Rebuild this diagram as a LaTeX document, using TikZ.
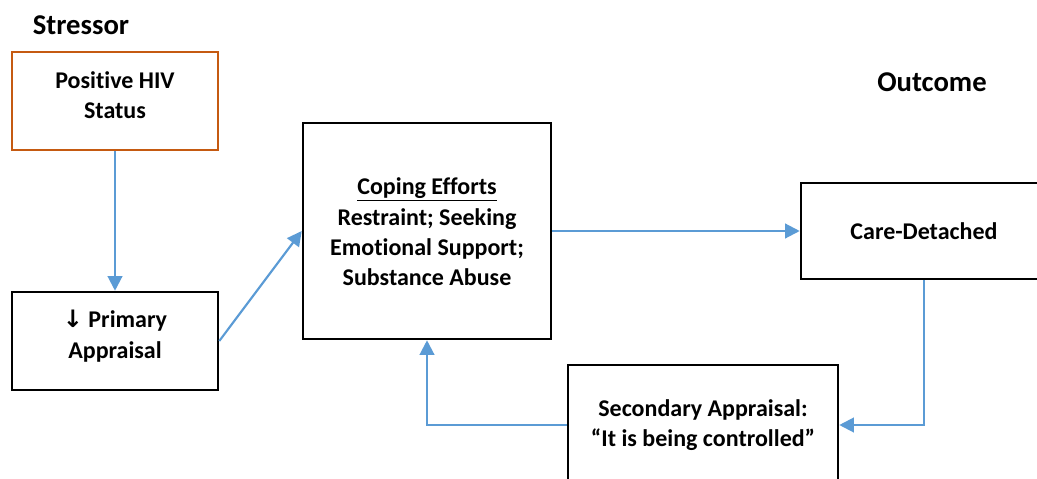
\documentclass[tikz,border=0pt]{standalone}
\usepackage{fontspec}
\setmainfont[Ligatures={NoCommon}]{Carlito}
\newfontfamily\symfont{DejaVu Sans}
\usetikzlibrary{arrows.meta}
\definecolor{arrowblue}{HTML}{5B9BD5}
\definecolor{boxbrown}{HTML}{C55A11}
\begin{document}
\begin{tikzpicture}[x=0.75pt,y=-0.75pt,
  box/.style={draw=black,line width=1.9pt,rectangle,inner sep=0pt},
  txt/.style={font=\fontsize{18}{22.8}\selectfont\bfseries,align=center,inner sep=0pt},
  head/.style={font=\fontsize{21.5}{25}\selectfont\bfseries,inner sep=0pt},
  arr/.style={draw=arrowblue,line width=1.6pt,-{Triangle[length=11pt,width=11pt]}}]
\useasboundingbox (0,0) rectangle (1037,478);
\clip (0,0) rectangle (1037,478);
% headings
\node[head] (stressor) at (81,25) {Stressor};
\node[head] (outcome) at (932,82) {Outcome};
% boxes
\node[box,draw=boxbrown,minimum width=154.5pt,minimum height=73.5pt] (hiv) at (115,101) {};
\node[txt] (hivt) at (115,95) {Positive HIV\\Status};
\node[box,minimum width=154.5pt,minimum height=73.5pt] (prim) at (115,341) {};
\node[txt] (primt) at (115,336) {{\symfont ↓} Primary\\Appraisal};
\node[box,minimum width=186pt,minimum height=162pt] (cope) at (427,231) {};
\node[txt] (copet) at (427,232) {\underline{Coping Efforts}\\Restraint; Seeking\\Emotional Support;\\Substance Abuse};
\node[box,minimum width=184.5pt,minimum height=72pt] (care) at (924,231) {};
\node[txt] (caret) at (924,231) {Care-Detached};
\node[box,minimum width=202.5pt,minimum height=90pt] (sec) at (703,425) {};
\node[txt] (sect) at (703,425) {Secondary Appraisal:\\“It is being controlled”};
% connectors
\draw[arr] (hiv.south) -- (prim.north);
\draw[arr] (prim.east) -- (cope.west);
\draw[arr] (cope.east) -- (care.west);
\draw[arr] (care.south) |- (sec.east);
\draw[arr] (sec.west) -| (cope.south);
\end{tikzpicture}
\end{document}
